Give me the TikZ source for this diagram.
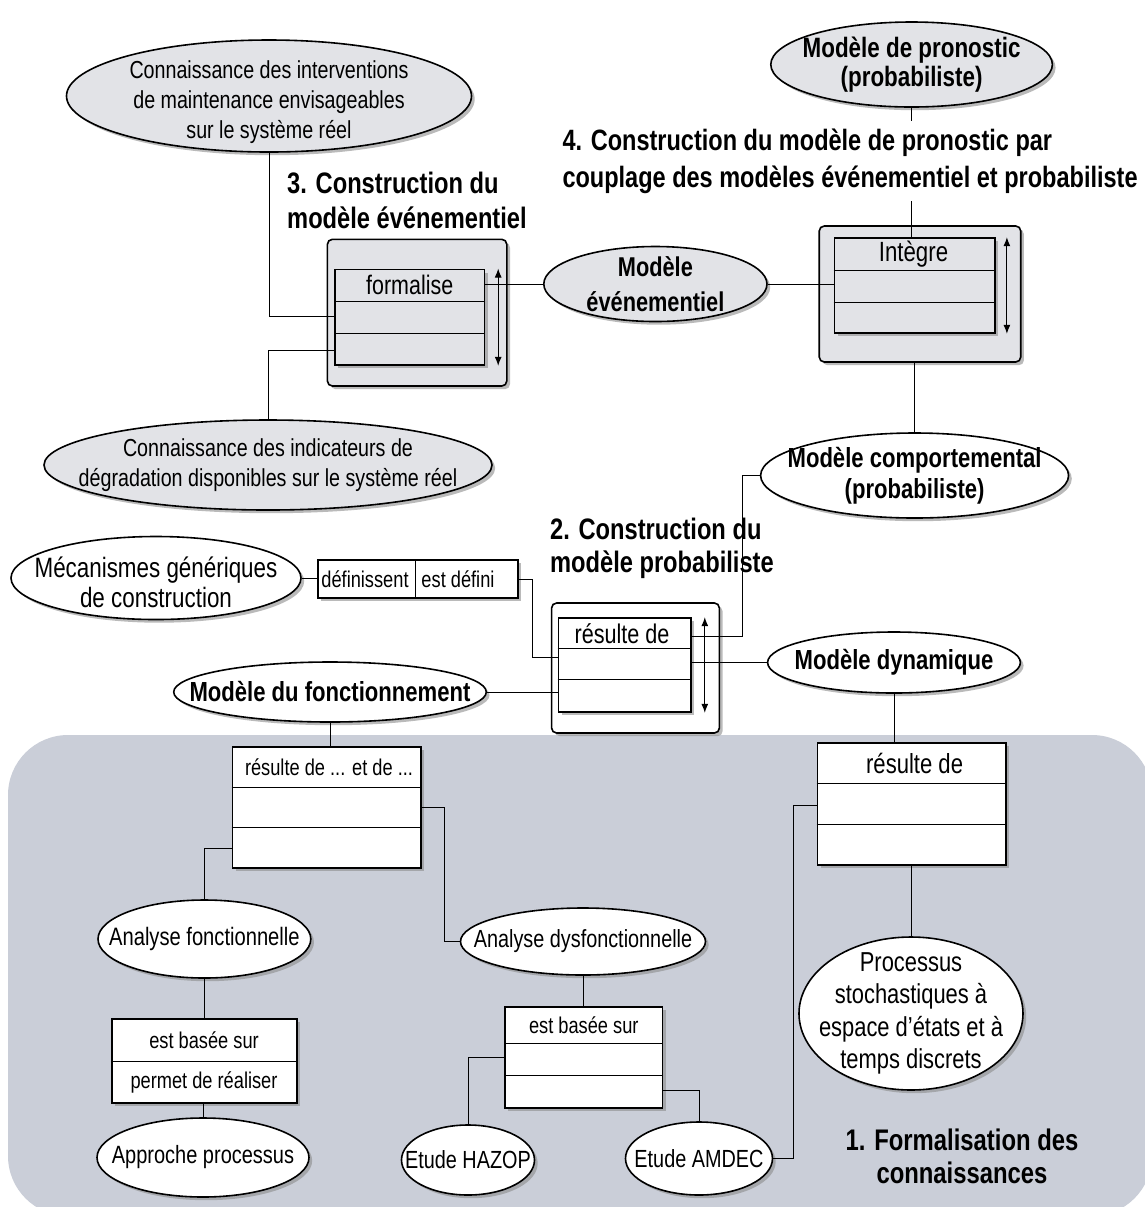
\documentclass[tikz,border=0pt]{standalone}
\usepackage{fontspec}
\setmainfont{Liberation Sans}[FakeStretch=0.8]
\usetikzlibrary{arrows.meta,shapes.geometric,shadows}
\definecolor{zonegray}{RGB}{202,206,216}
\definecolor{boxgray}{RGB}{226,227,231}

\begin{document}
\begin{tikzpicture}[
  x=0.5pt, y=-0.5pt,
  >={Latex[length=4.5pt,width=3.5pt]},
  line width=0.5pt,
  dshadow/.style={drop shadow={shadow xshift=1.6pt, shadow yshift=-1.6pt,
    fill=black!45, opacity=0.6}},
  ell/.style 2 args={ellipse, draw, fill=white, line width=0.8pt, inner sep=0pt,
    minimum width=#1, minimum height=#2, dshadow},
  gell/.style 2 args={ell={#1}{#2}, fill=boxgray},
  cbox/.style 2 args={rectangle, draw, fill=white, line width=0.8pt, inner sep=0pt,
    minimum width=#1, minimum height=#2, dshadow},
  obox/.style 2 args={cbox={#1}{#2}, rounded corners=2.5pt, fill=boxgray},
  txt/.style={align=center, inner sep=0pt, font=\fontsize{12.3}{15}\selectfont},
  btxt/.style={txt, font=\bfseries\fontsize{13.8}{15.5}\selectfont},
  stxt/.style={txt, font=\fontsize{11.4}{13}\selectfont},
  head/.style={align=left, inner sep=0pt, font=\bfseries\fontsize{14.8}{17.5}\selectfont}
]

\path[use as bounding box] (0,0) rectangle (1145,1207);

% Zone of the knowledge formalisation.
\fill[zonegray, rounded corners=30pt] (8,735) rectangle (1152,1216);

% Step 3: event model.
\node[gell={202.5pt}{56pt}, label={[txt, yshift=-3pt]center:{Connaissance des interventions\\
  de maintenance envisageables\\sur le système réel}}] (conInt) at (269,96) {};
\node[gell={224pt}{45pt}, label={[txt]center:{Connaissance des indicateurs de\\
  dégradation disponibles sur le système réel}}] (conInd) at (268,465) {};
\node[obox={89.7pt}{73.35pt}] (out3) at (417.1,312.65) {};
\node[cbox={74.9pt}{47.85pt}, fill=boxgray] (in3) at (409.7,317.15) {};
\node[txt, font=\fontsize{13.4}{15}\selectfont] (lab3) at (409.7,285) {formalise};
\node[gell={111.6pt}{37.5pt}, label={[btxt, font=\bfseries\fontsize{13.6}{17.5}\selectfont]center:{Modèle\\événementiel}}] (evt) at (655.4,284) {};

% Step 4: prognosis model.
\node[gell={140.8pt}{42.5pt}, label={[btxt, font=\bfseries\fontsize{14}{14.5}\selectfont]center:{Modèle de pronostic\\(probabiliste)}}] (prono) at (911.6,64.5) {};
\node[obox={100.75pt}{68pt}] (out4) at (920,294) {};
\node[cbox={80.2pt}{47.5pt}, fill=boxgray] (in4) at (914.5,285.5) {};
\node[txt, font=\fontsize{13.9}{15}\selectfont] (lab4) at (913.5,254) {Intègre};

% Step 2: probabilistic model.
\node[ell={154pt}{42.5pt}, label={[btxt]center:{Modèle comportemental\\(probabiliste)}}] (compo) at (914.6,475.5) {};
\node[ell={145pt}{41.5pt}, label={[txt, yshift=-2pt, font=\fontsize{14}{15}\selectfont]center:{Mécanismes génériques\\de construction}}] (meca) at (156,578) {};
\node[cbox={100pt}{19pt}] (defi) at (418,579) {};
\node[stxt] (defiA) at (365,579) {définissent};
\node[stxt] (defiB) at (458,579) {est défini};
\node[obox={83.9pt}{65pt}, fill=white] (out2) at (635.5,668) {};
\node[cbox={66.35pt}{47pt}] (in2) at (624.85,665) {};
\node[txt, font=\fontsize{13.5}{15}\selectfont] (lab2) at (622,634) {résulte de};
\node[ell={156.3pt}{30pt}, label={[btxt]center:Modèle du fonctionnement}] (fonc) at (330,692) {};
\node[ell={126.4pt}{30.5pt}, label={[btxt]center:Modèle dynamique}] (dyna) at (894,662.5) {};

% Step 1: knowledge formalisation.
\node[cbox={94.35pt}{60.5pt}] (rfonc) at (326.65,807.5) {};
\node[stxt] (labF) at (329,767) {résulte de ... et de ...};
\node[cbox={94.2pt}{61pt}] (rdyn) at (911.7,804) {};
\node[txt, font=\fontsize{13.8}{15}\selectfont] (labD) at (914.6,763) {résulte de};
\node[ell={106.4pt}{39pt}, label={[txt, font=\fontsize{12.6}{15}\selectfont]center:Analyse fonctionnelle}] (afonc) at (204.4,939) {};
\node[ell={122.5pt}{33.5pt}, label={[txt, font=\fontsize{12.4}{15}\selectfont]center:Analyse dysfonctionnelle}] (adys) at (583,941.5) {};
\node[cbox={92.5pt}{42pt}] (bfonc) at (204.2,1061) {};
\node[stxt] (labBa) at (204,1040) {est basée sur};
\node[stxt] (labBb) at (204,1082) {permet de réaliser};
\node[cbox={78.8pt}{50.5pt}] (bdys) at (583.8,1057.5) {};
\node[stxt] (labBc) at (583.8,1025) {est basée sur};
\node[ell={106pt}{39.5pt}, label={[txt, font=\fontsize{12.5}{15}\selectfont]center:Approche processus}] (appro) at (203,1157.5) {};
\node[ell={66.5pt}{35pt}, label={[txt, font=\fontsize{12.4}{15}\selectfont]center:Etude HAZOP}] (hazop) at (468,1160) {};
\node[ell={73.5pt}{36.5pt}, label={[txt, font=\fontsize{12.4}{15}\selectfont]center:Etude AMDEC}] (amdec) at (699,1158.5) {};
\node[ell={112pt}{76.5pt}, label={[txt, font=\fontsize{13.7}{16.2}\selectfont]center:{Processus\\stochastiques à\\
  espace d'états et à\\temps discrets}}] (proc) at (911,1013.5) {};

% Compartments of the boxes.
\foreach \yy in {301,333} {\draw (in3.west |- 0,\yy) -- (in3.east |- 0,\yy);}
\foreach \yy in {270,302} {\draw (in4.west |- 0,\yy) -- (in4.east |- 0,\yy);}
\foreach \yy in {648,679} {\draw (in2.west |- 0,\yy) -- (in2.east |- 0,\yy);}
\foreach \yy in {787,827} {\draw (rfonc.west |- 0,\yy) -- (rfonc.east |- 0,\yy);}
\foreach \yy in {783,824} {\draw (rdyn.west |- 0,\yy) -- (rdyn.east |- 0,\yy);}
\foreach \yy in {1043,1075} {\draw (bdys.west |- 0,\yy) -- (bdys.east |- 0,\yy);}
\draw (bfonc.west |- 0,1061) -- (bfonc.east |- 0,1061);
\draw (defi.north -| 415,0) -- (defi.south -| 415,0);

% Double arrows beside the process boxes.
\draw[<->] ([xshift=6.4pt]in3.north east) -- ([xshift=6.4pt]in3.south east);
\draw[<->] ([xshift=5.7pt]in4.north east) -- ([xshift=5.7pt]in4.south east);
\draw[<->] ([xshift=6.4pt]in2.north east) -- ([xshift=6.4pt]in2.south east);

% Links.
\coordinate (k1) at (532.7,657);
\coordinate (k2) at (742.5,636);
\coordinate (k4) at (793.2,805);
\draw (conInt.south) |- (in3.west |- 0,316);
\draw (conInd.north) |- (in3.west |- 0,350);
\draw (in3.east |- evt.west) -- (evt.west);
\draw (evt.east) -- (in4.west |- evt.east);
\draw (prono.south) -- (prono.south |- in4.north);
\draw (compo.north |- out4.south) -- (compo.north);
\draw (in2.east |- k2) -- (k2) |- (compo.west);
\draw (dyna.west) -- (in2.east |- dyna.west);
\draw (fonc.east) -- (in2.west |- fonc.east);
\draw (meca.east) -- (meca.east -| defi.west);
\draw (defi.east) -| (k1) -- (in2.west |- k1);
\draw (fonc.south) -- (fonc.south |- rfonc.north);
\draw (dyna.south) -- (dyna.south |- rdyn.north);
\draw (rfonc.west |- 0,848) -| (afonc.north);
\draw (rfonc.east |- 0,807) -| (adys.west -| 444,0) -- (adys.west);
\draw (afonc.south) -- (afonc.south |- bfonc.north);
\draw (appro.north |- bfonc.south) -- (appro.north);
\draw (adys.south) -- (adys.south |- bdys.north);
\draw (bdys.west |- 0,1057) -| (hazop.north);
\draw (bdys.east |- 0,1090) -| (amdec.north);
\draw (amdec.east) -| (k4) -- (rdyn.west |- k4);
\draw (proc.north |- rdyn.south) -- (proc.north);

% Step titles.
\node[head, anchor=west] (head3) at (286.7,200.5) {3. Construction du\\modèle événementiel};
\node[head, anchor=west, fill=white, inner ysep=4pt, font=\bfseries\fontsize{14.7}{18.5}\selectfont]
  (head4) at (562,161) {4. Construction du modèle de pronostic par\\
  couplage des modèles événementiel et probabiliste};
\node[head, anchor=west, font=\bfseries\fontsize{14.8}{16.5}\selectfont]
  (head2) at (549.6,548.5) {2. Construction du\\modèle probabiliste};
\node[head, align=center, font=\bfseries\fontsize{14.9}{16.5}\selectfont]
  (head1) at (962,1156.5) {1. Formalisation des\\connaissances};

\end{tikzpicture}
\end{document}
